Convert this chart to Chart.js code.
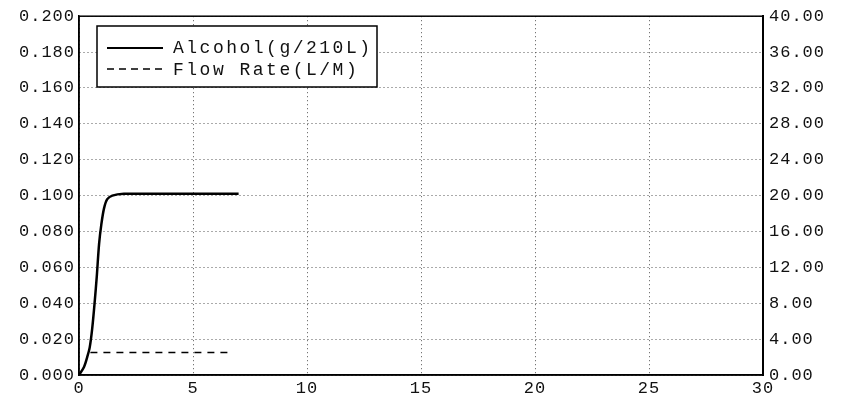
<!DOCTYPE html>
<html>
<head>
<meta charset="utf-8">
<script src="https://cdn.jsdelivr.net/npm/chart.js@4/dist/chart.umd.min.js"></script>
<style>
  html, body { margin: 0; padding: 0; background: #fff; }
  #wrap { width: 853px; height: 404px; }
</style>
</head>
<body>
<div id="wrap"><canvas id="c"></canvas></div>
<script>
// data
const alcoholTime  = [0, 0.22, 0.36, 0.47, 0.58, 0.69, 0.78, 0.88, 0.98, 1.10, 1.24, 1.46, 1.97, 3, 4, 5, 6, 7];
const alcoholValue = [0, 0.0045, 0.010, 0.0154, 0.026, 0.041, 0.055, 0.073, 0.084, 0.093, 0.098, 0.100, 0.101, 0.101, 0.101, 0.101, 0.101, 0.101];
const flowTime  = [0.5, 6.7];
const flowValue = [2.5, 2.5];
const labelsLegend = ['Alcohol(g/210L)', 'Flow Rate(L/M)'];

const toPoints = (xs, ys) => xs.map((x, i) => ({ x: x, y: ys[i] }));
const monoFont = { family: "'Liberation Mono', 'DejaVu Sans Mono', monospace", size: 17 };

// the scan uses wide spacing in its text
const spacingPlugin = {
    id: 'spacing',
    beforeLayout(chart) { chart.ctx.letterSpacing = '1px'; },
    beforeDraw(chart) { chart.ctx.letterSpacing = '1px'; }
};

// legend box drawn inside the plot area
const boxLegend = {
    id: 'boxLegend',
    afterDatasetsDraw(chart) {
        const ctx = chart.ctx;
        ctx.save();
        ctx.fillStyle = '#fff';
        ctx.fillRect(97, 26, 280, 61);
        ctx.strokeStyle = '#000';
        ctx.lineWidth = 1.5;
        ctx.setLineDash([]);
        ctx.strokeRect(97, 26, 280, 61);

        ctx.lineWidth = 2;
        ctx.beginPath(); ctx.moveTo(107, 48); ctx.lineTo(163, 48); ctx.stroke();
        ctx.lineWidth = 1.3;
        ctx.setLineDash([7, 5]);
        ctx.beginPath(); ctx.moveTo(107, 69); ctx.lineTo(163, 69); ctx.stroke();
        ctx.setLineDash([]);

        ctx.letterSpacing = '2.5px';
        ctx.font = "18px 'Liberation Mono', monospace";
        ctx.fillStyle = '#111';
        ctx.textBaseline = 'middle';
        ctx.fillText(labelsLegend[0], 173, 48);
        ctx.fillText(labelsLegend[1], 173, 70);
        ctx.restore();
    }
};

// full black frame round the plot
const frame = {
    id: 'frame',
    afterDraw(chart) {
        const a = chart.chartArea, ctx = chart.ctx;
        ctx.save();
        ctx.setLineDash([]);
        ctx.strokeStyle = '#000';
        ctx.lineWidth = 1.5;
        ctx.strokeRect(a.left, a.top, a.right - a.left, a.bottom - a.top);
        ctx.lineWidth = 2;
        ctx.beginPath(); ctx.moveTo(a.right, a.top); ctx.lineTo(a.right, a.bottom); ctx.stroke();
        ctx.restore();
    }
};

const dottedGrid = { color: '#555', lineWidth: 1, drawTicks: false };
const dottedBorder = { display: true, color: '#000', width: 1.5, dash: [1, 3] };

new Chart(document.getElementById('c').getContext('2d'), {
    type: 'line',
    data: {
        datasets: [
            {
                label: labelsLegend[0],
                data: toPoints(alcoholTime, alcoholValue),
                yAxisID: 'y',
                borderColor: '#000',
                borderWidth: 2.5,
                pointRadius: 0,
                tension: 0.3,
                fill: false
            },
            {
                label: labelsLegend[1],
                data: toPoints(flowTime, flowValue),
                yAxisID: 'y2',
                borderColor: '#000',
                borderWidth: 1.5,
                borderDash: [7, 6],
                pointRadius: 0,
                fill: false
            }
        ]
    },
    options: {
        responsive: true,
        maintainAspectRatio: false,
        animation: false,
        layout: { padding: { top: 7, left: 0, right: 0, bottom: 0 } },
        plugins: {
            legend: { display: false },
            tooltip: { enabled: false }
        },
        scales: {
            x: {
                type: 'linear',
                min: 0, max: 30,
                afterFit(s) { s.height = 29; },
                border: dottedBorder,
                grid: dottedGrid,
                ticks: { stepSize: 5, color: '#111', font: monoFont, padding: 3, maxRotation: 0 }
            },
            y: {
                position: 'left',
                min: 0, max: 0.2,
                afterFit(s) { s.width = 79; },
                border: dottedBorder,
                grid: dottedGrid,
                ticks: {
                    stepSize: 0.02, color: '#111', font: monoFont, padding: 4,
                    callback: v => v.toFixed(3)
                }
            },
            y2: {
                position: 'right',
                min: 0, max: 40,
                afterFit(s) { s.width = 90; },
                border: { display: true, color: '#000', width: 2 },
                grid: { display: false, drawTicks: false },
                ticks: {
                    stepSize: 4, color: '#111', font: monoFont, padding: 6,
                    callback: v => v.toFixed(2)
                }
            }
        }
    },
    plugins: [spacingPlugin, boxLegend, frame]
});
</script>
</body>
</html>
